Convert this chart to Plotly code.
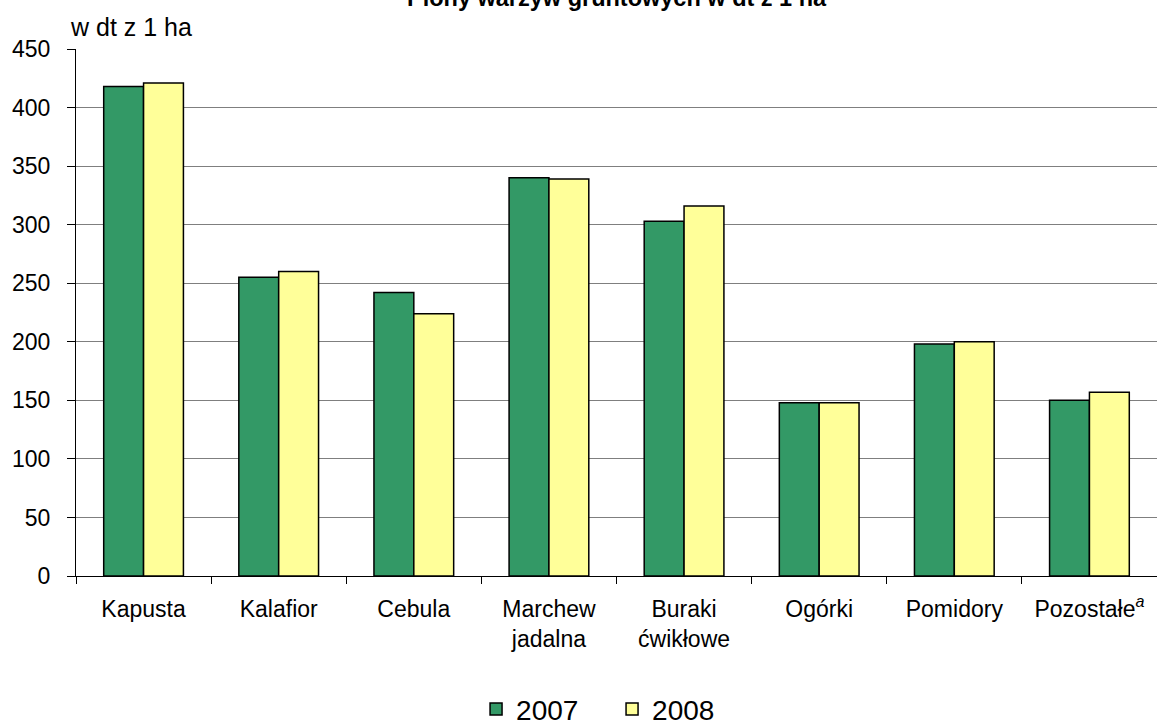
import plotly.graph_objects as go

categories = ["Kapusta", "Kalafior", "Cebula", "Marchew<br>jadalna", "Buraki<br>ćwikłowe",
              "Ogórki", "Pomidory", "Pozostałe<sup><i>a</i></sup>"]
values_2007 = [418, 255, 242, 340, 303, 148, 198, 150]
values_2008 = [421, 260, 224, 339, 316, 148, 200, 157]
y_ticks = [0, 50, 100, 150, 200, 250, 300, 350, 400, 450]

FONT = "Liberation Sans, Arial, sans-serif"

fig = go.Figure()
fig.add_trace(go.Bar(name="2007", x=categories, y=values_2007,
                     marker=dict(color="#339966", line=dict(color="black", width=1.5))))
fig.add_trace(go.Bar(name="2008", x=categories, y=values_2008,
                     marker=dict(color="#FFFF99", line=dict(color="black", width=1.5))))

fig.update_layout(
    width=1157, height=720,
    margin=dict(l=76, r=0, t=49, b=144),
    paper_bgcolor="white", plot_bgcolor="white",
    font=dict(family=FONT, color="black"),
    barmode="group", bargap=0.41, bargroupgap=0,
    legend=dict(orientation="h", x=0.529, xanchor="center", xref="container",
                y=0.015, yanchor="middle", yref="container",
                font=dict(size=28, family=FONT), tracegroupgap=0,
                entrywidth=91, entrywidthmode="pixels"),
    xaxis=dict(type="category", tickson="boundaries", ticks="outside", ticklen=7,
               tickcolor="black", showline=True, linecolor="black", linewidth=1,
               tickfont=dict(size=23, family=FONT), showgrid=False,
               ticklabelstandoff=12),
    yaxis=dict(range=[0, 450], tickvals=y_ticks, ticks="outside", ticklen=8,
               tickcolor="black", showline=True, linecolor="black", linewidth=1,
               showgrid=True, gridcolor="#7f7f7f", gridwidth=1,
               tickfont=dict(size=23, family=FONT), zeroline=False,
               ticklabelstandoff=12),
)
fig.add_annotation(text="<b>Plony warzyw gruntowych w dt z 1 ha</b>", xref="paper", yref="paper",
                   x=0.5, y=1.0, xanchor="center", yanchor="middle", yshift=51,
                   showarrow=False, font=dict(size=23.5, family=FONT))
fig.add_annotation(text="w dt z 1 ha", xref="paper", yref="paper", x=-0.007, y=1.0,
                   xanchor="left", yanchor="middle", yshift=22, showarrow=False,
                   font=dict(size=25, family=FONT))
fig.write_html("out.html", config={"displayModeBar": False},
               post_script="document.body.style.margin='0';document.body.style.overflow='hidden';")
